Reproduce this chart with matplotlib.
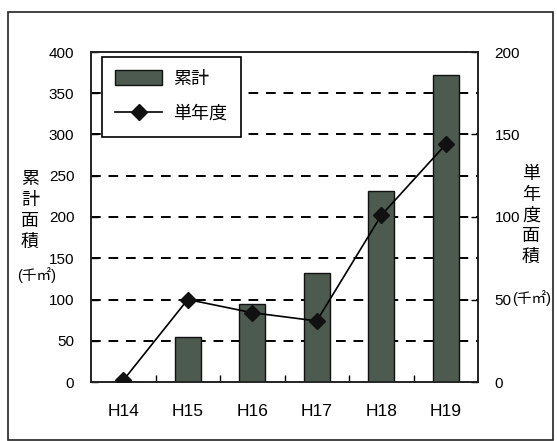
import matplotlib
matplotlib.use("Agg")
import matplotlib.pyplot as plt
from matplotlib.patches import Rectangle
import numpy as np

plt.rcParams['font.family'] = ['Liberation Sans', 'Noto Sans CJK JP', 'DejaVu Sans']

categories = ["H14", "H15", "H16", "H17", "H18", "H19"]
cumulative = [0, 54, 94, 132, 232, 372]      # 累計 (千㎡)
annual = [1, 50, 42, 37, 101, 144]           # 単年度 (千㎡)
left_ticks = [0, 50, 100, 150, 200, 250, 300, 350, 400]
right_ticks = [0, 50, 100, 150, 200]

W, H = 557, 441
fig = plt.figure(figsize=(W / 100, H / 100), dpi=100)

# outer frame
fig.patches.append(Rectangle((8 / W, 1 - 440 / H), (553 - 8) / W, (440 - 12) / H,
                             transform=fig.transFigure, fill=False,
                             edgecolor='#222222', linewidth=1.2))

ax = fig.add_axes([91 / W, 1 - 382 / H, (478 - 91) / W, (382 - 52) / H])
x = np.arange(len(categories))

bar_color = '#4d5a50'
bars = ax.bar(x, cumulative, width=0.4, color=bar_color, edgecolor='#111111',
              linewidth=1.0, zorder=3, label='累計')

ax.set_xlim(-0.5, len(categories) - 0.5)
ax.set_ylim(0, 400)
ax.set_yticks(left_ticks)
for v in left_ticks[1:-1]:
    ax.axhline(v, color='black', linestyle=(0, (5, 4)), linewidth=1.4, zorder=1)

ax.set_xticks(x)
ax.set_xticklabels(categories, fontsize=12.5)
ax.set_xticks(np.arange(0.5, len(categories) - 0.5, 1.0), minor=True)
ax.tick_params(axis='x', which='major', length=0, pad=16)
ax.tick_params(axis='x', which='minor', length=5, direction='in', width=1)
ax.tick_params(axis='y', length=5, direction='in', labelsize=11, pad=12, width=1)

for s in ax.spines.values():
    s.set_linewidth(1.2)
    s.set_color('#222222')

ax2 = ax.twinx()
ax2.set_ylim(0, 200)
ax2.set_yticks(right_ticks)
ax2.tick_params(axis='y', length=5, direction='in', labelsize=11, pad=12, width=1)
line, = ax2.plot(x, annual, color='black', linewidth=1.2, marker='D',
                 markersize=8, markerfacecolor='#111111', markeredgecolor='#111111',
                 label='単年度', zorder=5)
for s in ax2.spines.values():
    s.set_linewidth(1.2)
    s.set_color('#222222')

leg = ax2.legend([bars, line], ['累計', '単年度'], loc='upper left',
                 bbox_to_anchor=(0.028, 0.985), fontsize=13, frameon=True,
                 fancybox=False, edgecolor='black', framealpha=1,
                 handlelength=2.6, handleheight=0.9, borderpad=0.75,
                 labelspacing=0.95, borderaxespad=0, handletextpad=0.6)
leg.get_frame().set_linewidth(1.2)

# axis titles (stacked vertical characters)
fig.text(30 / W, 1 - 211 / H, "累\n計\n面\n積", ha='center', va='center',
         fontsize=13, linespacing=1.3)
fig.text(37 / W, 1 - 275 / H, "(千㎡)", ha='center', va='center', fontsize=10.5)
fig.text(531 / W, 1 - 216 / H, "単\n年\n度\n面\n積", ha='center', va='center',
         fontsize=13, linespacing=1.3)
fig.text(512 / W, 1 - 298 / H, "(千㎡)", ha='left', va='center', fontsize=10.5)

fig.savefig("out.png", dpi=100)
